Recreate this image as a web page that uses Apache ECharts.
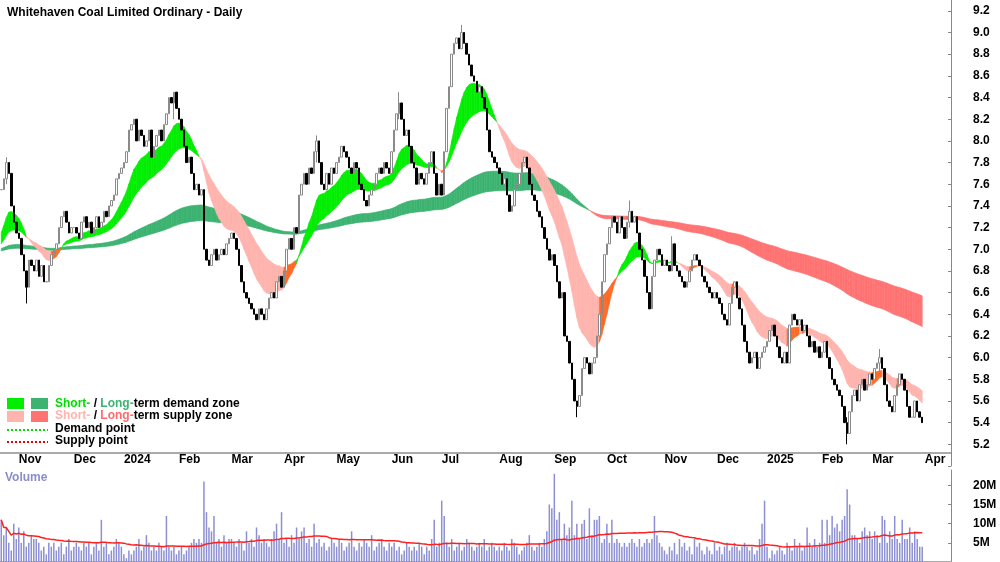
<!DOCTYPE html>
<html lang="en">
  <head>
    <meta charset="UTF-8" />
    <title>Whitehaven Coal</title>
    <script src="https://cdn.jsdelivr.net/npm/echarts@6.0.0/dist/echarts.min.js"></script>
    <style>
      body { margin: 0; background: #fff; }
    </style>
  </head>
  <body>
    <div id="main" style="width: 1000px; height: 562px"></div>
    <script type="text/javascript">
      // month names shown on the axis, one per block of closes below
      const months = ["", "Nov", "Dec", "2024", "Feb", "Mar", "Apr", "May", "Jun", "Jul", "Aug", "Sep", "Oct", "Nov", "Dec", "2025", "Feb", "Mar"];
      // daily closes, one array per month (Oct 2023 partial .. Mar 2025)
      const closes = [
        [7.55, 7.65, 7.8, 7.7, 7.4, 7.25, 7.15],
        [7.1, 6.95, 6.8, 6.65, 6.9, 6.85, 6.8, 6.9, 6.75, 6.85, 6.7, 6.7, 6.85, 6.95, 7.0, 7.05, 7.2, 7.3, 7.35, 7.25, 7.15, 7.2],
        [7.2, 7.15, 7.1, 7.25, 7.3, 7.2, 7.25, 7.15, 7.2, 7.3, 7.2, 7.25, 7.35, 7.3, 7.4, 7.45, 7.5, 7.65, 7.7, 7.75],
        [7.8, 7.9, 8.1, 8.15, 8.2, 8.0, 8.1, 8.05, 7.95, 8.0, 8.1, 7.85, 7.95, 8.05, 8.1, 8.0, 8.15, 8.25, 8.4, 8.35, 8.45, 8.3],
        [8.2, 8.1, 7.95, 7.8, 7.85, 7.7, 7.55, 7.6, 7.5, 7.55, 7.0, 6.9, 6.85, 6.95, 7.0, 6.9, 6.95, 7.0, 6.95, 7.05, 7.1],
        [7.15, 7.1, 7.0, 6.85, 6.7, 6.6, 6.55, 6.5, 6.45, 6.4, 6.35, 6.45, 6.4, 6.35, 6.45, 6.55, 6.6, 6.55, 6.7, 6.75, 6.65],
        [6.8, 7.0, 7.1, 7.0, 7.2, 7.15, 7.5, 7.6, 7.7, 7.6, 7.75, 7.7, 7.9, 8.0, 7.8, 7.6, 7.55, 7.7, 7.6, 7.75, 7.7],
        [7.8, 7.85, 7.95, 7.9, 7.85, 7.75, 7.7, 7.8, 7.75, 7.6, 7.55, 7.45, 7.4, 7.5, 7.55, 7.6, 7.7, 7.75, 7.7, 7.8, 7.75, 7.7],
        [7.9, 8.1, 8.25, 8.35, 8.2, 8.05, 8.1, 7.95, 7.8, 7.75, 7.6, 7.7, 7.65, 7.6, 7.7, 7.8, 7.9, 7.7, 7.5, 7.6],
        [7.5, 7.9, 8.3, 8.5, 8.8, 8.9, 8.95, 8.85, 9.0, 8.9, 8.8, 8.7, 8.6, 8.55, 8.45, 8.5, 8.4, 8.3, 8.1, 7.9, 7.85, 7.8, 7.75],
        [7.7, 7.6, 7.65, 7.5, 7.35, 7.4, 7.55, 7.6, 7.7, 7.8, 7.85, 7.75, 7.6, 7.5, 7.45, 7.35, 7.3, 7.2, 7.1, 7.0, 6.9, 6.95],
        [6.85, 6.7, 6.55, 6.6, 6.2, 6.15, 5.95, 5.8, 5.6, 5.55, 5.65, 5.9, 6.0, 5.95, 5.85, 5.95, 6.0, 6.2, 6.4, 6.7, 6.95],
        [7.05, 7.2, 7.3, 7.25, 7.15, 7.3, 7.2, 7.1, 7.25, 7.35, 7.25, 7.3, 7.15, 7.0, 6.9, 6.75, 6.6, 6.45, 6.75, 6.9, 7.0, 6.95, 6.85],
        [6.9, 6.85, 6.8, 7.05, 6.85, 6.8, 6.75, 6.7, 6.65, 6.7, 6.8, 6.9, 6.95, 6.9, 6.85, 6.75, 6.7, 6.65, 6.6, 6.55, 6.6],
        [6.55, 6.5, 6.4, 6.35, 6.3, 6.5, 6.65, 6.7, 6.55, 6.45, 6.3, 6.15, 6.05, 5.95, 6.0, 6.05, 5.9, 6.0, 6.05, 6.1],
        [6.15, 6.25, 6.3, 6.2, 6.1, 6.0, 5.95, 6.05, 5.95, 6.3, 6.4, 6.35, 6.3, 6.35, 6.25, 6.3, 6.2, 6.1, 6.15, 6.05, 6.1, 6.0],
        [6.05, 6.15, 6.0, 5.9, 5.8, 5.75, 5.7, 5.65, 5.55, 5.4, 5.3, 5.5, 5.65, 5.7, 5.6, 5.75, 5.8, 5.7, 5.75, 5.85],
        [5.8, 5.9, 5.95, 6.0, 5.9, 5.75, 5.6, 5.55, 5.5, 5.65, 5.75, 5.85, 5.8, 5.7, 5.55, 5.45, 5.45, 5.6, 5.5, 5.45, 5.4],
      ];
      // daily volume in millions, same month blocks
      const volumes = [
        [11, 7, 9, 5, 3, 10, 6],
        [9, 5, 8, 4, 5, 7, 6, 6, 5, 3, 4, 2, 5, 4, 5, 3, 4, 5, 2, 4, 6, 3],
        [4, 5, 4, 3, 5, 4, 5, 2, 4, 5, 3, 11, 4, 5, 2, 3, 4, 6, 5, 4],
        [2, 1, 3, 2, 3, 4, 6, 3, 4, 7, 5, 3, 4, 3, 5, 4, 3, 12, 4, 3, 4, 2],
        [3, 4, 2, 3, 4, 5, 6, 5, 6, 5, 21, 13, 9, 8, 12, 5, 6, 4, 7, 5, 6],
        [6, 5, 4, 6, 5, 3, 8, 5, 6, 4, 9, 7, 5, 6, 5, 4, 6, 8, 10, 6, 13],
        [5, 6, 4, 7, 5, 9, 6, 8, 9, 5, 6, 4, 10, 5, 6, 4, 5, 3, 4, 6, 5],
        [4, 6, 5, 3, 4, 5, 8, 4, 3, 5, 4, 6, 5, 4, 7, 3, 4, 5, 6, 4, 3, 5],
        [4, 5, 3, 4, 2, 3, 5, 4, 3, 4, 3, 5, 4, 2, 4, 3, 6, 11, 4, 5],
        [16, 12, 5, 4, 6, 3, 4, 5, 3, 4, 6, 5, 4, 3, 4, 5, 4, 6, 3, 4, 5, 4, 3],
        [4, 3, 5, 4, 3, 6, 5, 4, 2, 3, 4, 5, 7, 4, 3, 4, 5, 4, 6, 8, 15, 14],
        [23, 11, 13, 6, 10, 7, 9, 16, 7, 10, 6, 10, 11, 6, 14, 7, 11, 11, 12, 5, 6],
        [10, 5, 11, 5, 6, 5, 4, 5, 4, 5, 6, 5, 4, 6, 4, 5, 6, 5, 6, 12, 7, 5, 4],
        [3, 2, 4, 3, 5, 2, 6, 4, 5, 3, 4, 2, 6, 4, 5, 3, 2, 4, 3, 2, 5],
        [3, 4, 2, 4, 5, 3, 4, 5, 4, 3, 4, 5, 4, 3, 4, 2, 3, 6, 10, 16],
        [4, 1, 3, 2, 3, 4, 3, 2, 5, 4, 3, 6, 4, 5, 3, 4, 9, 5, 4, 6, 4, 5],
        [11, 5, 11, 7, 12, 9, 10, 8, 11, 12, 19, 15, 7, 7, 6, 5, 8, 9, 7, 8],
        [6, 8, 7, 5, 12, 11, 5, 8, 6, 12, 6, 5, 11, 6, 6, 9, 5, 8, 6, 4, 4],
      ];
      // notable wicks: [month block, day in block, high, low]
      const wicks = [
        [0, 2, 7.85, 7.6], [1, 3, 6.7, 6.5], [3, 20, 8.45, 8.2], [6, 13, 8.05, 7.8],
        [8, 3, 8.45, 8.2], [9, 8, 9.07, 8.85], [11, 9, 5.6, 5.45], [12, 9, 7.45, 7.2],
        [13, 3, 7.12, 6.85], [16, 10, 5.45, 5.2], [17, 3, 6.08, 5.85],
      ];
      // zone colours: short demand, long demand, turning, short supply, long supply
      const zoneColors = ["#00ee00", "#3cb371", "#ff6a26", "#ffb4ae", "#ff7373"];

      const cats = [], ohlc = [], vol = [], monthStart = {};
      closes.forEach((m, mi) => {
        m.forEach((c, di) => {
          const i = cats.length;
          if (di === 0 && months[mi]) monthStart[i] = months[mi];
          const o = i === 0 ? c : ohlc[i - 1][1];
          let hi = Math.max(o, c), lo = Math.min(o, c);
          wicks.forEach((w) => {
            if (w[0] === mi && w[1] === di) { hi = Math.max(hi, w[2]); lo = Math.min(lo, w[3]); }
          });
          cats.push("d" + i);
          ohlc.push([o, c, lo, hi]);
          vol.push(volumes[mi][di]);
        });
      });
      const n = cats.length;
      // empty days after the last bar, first one starts April
      for (let k = 0; k < 11; k++) {
        if (k === 0) monthStart[cats.length] = "Apr";
        cats.push("p" + k);
      }

      function ema(period, seed) {
        const a = 2 / (period + 1);
        let v = seed;
        return ohlc.map((d) => (v = v + a * (d[1] - v)));
      }
      const sFast = ema(15, 7.1), sSlow = ema(34, 7.02);
      const lFast = ema(150, 7.0), lSlow = ema(250, 6.98);

      function bandData(f, s, up, mixed, down) {
        const out = [];
        for (let i = 0; i < n - 1; i++) {
          let col;
          if (f[i + 1] >= s[i + 1]) col = up;
          else if (s[i + 1] > s[i]) col = mixed;
          else col = down;
          out.push([i, f[i], s[i], f[i + 1], s[i + 1], col]);
        }
        return out;
      }
      function renderBand(params, api) {
        const i = api.value(0);
        const p1 = api.coord([i, api.value(1)]);
        const p2 = api.coord([i + 1, api.value(3)]);
        const p3 = api.coord([i + 1, api.value(4)]);
        const p4 = api.coord([i, api.value(2)]);
        const col = zoneColors[api.value(5)];
        return {
          type: "polygon",
          shape: { points: [p1, p2, p3, p4] },
          style: { fill: col, stroke: col, lineWidth: 0.6 },
        };
      }

      // volume 50 day average
      const volMa = vol.map((v, i) => {
        const s = vol.slice(Math.max(0, i - 49), i + 1);
        return +(s.reduce((a, b) => a + b, 0) / s.length).toFixed(2);
      });

      const longBand = bandData(lFast, lSlow, 1, 2, 4);
      const shortBand = bandData(sFast, sSlow, 0, 2, 3);

      let myChart = echarts.init(document.getElementById("main"));
      const bold = { fontFamily: "Liberation Sans", fontWeight: "bold", fontSize: 12, color: "#000" };
      let options = {
        animation: false,
        grid: [
          { left: 0, right: 49, top: 0, bottom: 96 },
          { left: 0, right: 49, top: 470, bottom: -3 },
        ],
        xAxis: [
          { type: "category", data: cats, gridIndex: 0, show: false },
          {
            type: "category", data: cats, gridIndex: 1, position: "top",
            axisLine: { lineStyle: { color: "#aaa", width: 2 } },
            axisTick: { interval: (i) => i in monthStart, length: 4, inside: false, lineStyle: { color: "#999" } },
            axisLabel: {
              interval: (i) => i in monthStart, formatter: (v, i) => monthStart[i] || "",
              align: "left", margin: 4, ...bold,
            },
          },
        ],
        yAxis: [
          {
            type: "value", gridIndex: 0, position: "right", min: 5.0, max: 9.3, interval: 0.2,
            splitLine: { show: false },
            axisLine: { show: true, lineStyle: { color: "#888" } },
            axisTick: { show: true, inside: true, length: 3, lineStyle: { color: "#888" } },
            axisLabel: {
              margin: 22, ...bold, showMaxLabel: false,
              formatter: (v) => (v < 5.15 || v > 9.25 ? "" : v.toFixed(1)),
            },
          },
          {
            type: "value", gridIndex: 1, position: "right", min: 0, max: 24, interval: 5,
            splitLine: { show: false },
            axisLine: { show: true, lineStyle: { color: "#888" } },
            axisTick: { show: true, inside: true, length: 3, lineStyle: { color: "#888" } },
            axisLabel: {
              margin: 22, ...bold, showMinLabel: false, showMaxLabel: false,
              formatter: (v) => (v === 0 || v > 21 ? "" : v + "M"),
            },
          },
        ],
        title: {
          text: "Whitehaven Coal Limited Ordinary - Daily", left: 2, top: 2,
          textStyle: { fontFamily: "Liberation Sans", fontWeight: "bold", fontSize: 12, color: "#000" },
        },
        graphic: [
          { type: "line", shape: { x1: 0, y1: 453, x2: 951, y2: 453 }, style: { stroke: "#aaa", lineWidth: 2 } },
          { type: "text", left: 5, top: 472, style: { text: "Volume", fill: "#8a8cc8", font: "bold 12px Liberation Sans" } },
          { type: "rect", shape: { x: 7, y: 398, width: 17, height: 11 }, style: { fill: "#00ee00" } },
          { type: "rect", shape: { x: 31, y: 398, width: 17, height: 11 }, style: { fill: "#3cb371" } },
          { type: "rect", shape: { x: 7, y: 411, width: 17, height: 11 }, style: { fill: "#ffb4ae" } },
          { type: "rect", shape: { x: 31, y: 411, width: 17, height: 11 }, style: { fill: "#ff7373" } },
          { type: "line", shape: { x1: 7, y1: 430, x2: 48, y2: 430 }, style: { stroke: "#00dd00", lineWidth: 2, lineDash: [2, 2] } },
          { type: "line", shape: { x1: 7, y1: 442, x2: 48, y2: 442 }, style: { stroke: "#ee0000", lineWidth: 2, lineDash: [2, 2] } },
          {
            type: "text", left: 55, top: 397,
            style: {
              text: "{g|Short-} / {d|Long-}term demand zone\n{p|Short-} / {r|Long-}term supply zone\nDemand point\nSupply point",
              font: "bold 12px Liberation Sans", fill: "#000", lineHeight: 12.5,
              rich: {
                g: { fill: "#00dd00", font: "bold 12px Liberation Sans" },
                d: { fill: "#3cb371", font: "bold 12px Liberation Sans" },
                p: { fill: "#ffb4ae", font: "bold 12px Liberation Sans" },
                r: { fill: "#ff6b6b", font: "bold 12px Liberation Sans" },
              },
            },
          },
        ],
        series: [
          { type: "custom", xAxisIndex: 0, yAxisIndex: 0, renderItem: renderBand, data: longBand, encode: { x: 0, y: [1, 2] }, clip: true },
          { type: "custom", xAxisIndex: 0, yAxisIndex: 0, renderItem: renderBand, data: shortBand, encode: { x: 0, y: [1, 2] }, clip: true },
          {
            type: "candlestick", xAxisIndex: 0, yAxisIndex: 0, data: ohlc, barWidth: 2,
            itemStyle: { color: "#fff", borderColor: "#8a8a8a", color0: "#000", borderColor0: "#000", borderWidth: 1 },
          },
          { type: "bar", xAxisIndex: 1, yAxisIndex: 1, data: vol, barWidth: 1.5, itemStyle: { color: "#8c8fd2" } },
          {
            type: "line", xAxisIndex: 1, yAxisIndex: 1, data: volMa, symbol: "none",
            lineStyle: { color: "#ff2020", width: 1.5 },
          },
        ],
      };
      myChart.setOption(options);
    </script>
  </body>
</html>
